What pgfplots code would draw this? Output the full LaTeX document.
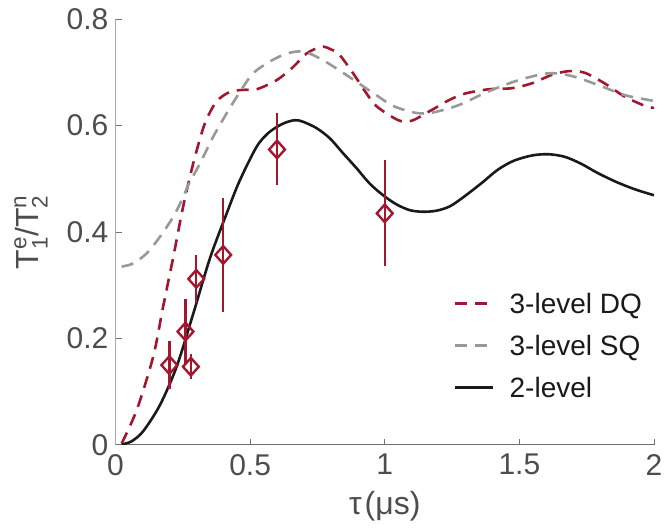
\documentclass[border=0pt]{standalone}
\usepackage{fontspec}
\setmainfont{Liberation Sans}
\usepackage{amsmath}
\usepackage{pgfplots}
\pgfplotsset{compat=1.18}
\definecolor{dq}{HTML}{A3162E}
\definecolor{sq}{HTML}{999999}
\definecolor{lbl}{HTML}{4D4D4D}
\definecolor{curve}{HTML}{1A1A1A}
\definecolor{yax}{HTML}{AAAAAA}
\definecolor{xax}{HTML}{707070}
\begin{document}
\begin{tikzpicture}
\useasboundingbox (-57.75pt,-42pt) rectangle (274.25pt,222.5pt);
\begin{axis}[
  scale only axis, width=269.25pt, height=213pt,
  xmin=0, xmax=2, ymin=0, ymax=0.8,
  axis x line*=bottom, axis y line*=left,
  x axis line style={-, color=xax, line width=0.5pt},
  y axis line style={-, color=yax, line width=0.5pt},
  xtick={0,0.5,1,1.5,2}, ytick={0,0.2,0.4,0.6,0.8},
  tick align=inside, major tick length=3pt,
  xtick style={color=xax, line width=0.5pt},
  ytick style={color=xax, line width=0.5pt},
  /pgf/number format/assume math mode=true,
  ticklabel style={font=\fontsize{15}{18}\selectfont, color=lbl},
  xticklabel style={yshift=-1pt},
  label style={font=\fontsize{16}{19}\selectfont, color=lbl},
  xlabel={τ\kern1.5pt(μs)},
  ylabel={T$^{\text{e}}_{\text{1}}$/T$^{\text{n}}_{\text{2}}$},
  xlabel style={at={(axis description cs:0.5,-0.143)}, anchor=center},
  ylabel style={at={(axis description cs:-0.157,0.5)}, anchor=center},
  legend style={draw=none, fill=none, inner sep=0pt, at={(axis cs:1.256,0.285)}, anchor=north west,
    font=\fontsize{14}{17}\selectfont, text=curve, row sep=11pt,
    nodes={inner sep=0pt, text height=10pt, text depth=0pt},
    /tikz/column sep=7.5pt},
  legend cell align=left,
  legend image code/.code={\draw[#1] (0pt,0pt) -- (19pt,0pt);},
  every axis plot/.append style={line width=1.3pt},
]
\addplot[color=dq, smooth, dash pattern=on 6pt off 4pt] coordinates {
(0.023,0.003) (0.079,0.066) (0.140,0.166) (0.177,0.26) (0.215,0.354) (0.246,0.435)
(0.27,0.49) (0.295,0.541) (0.332,0.604) (0.375,0.645) (0.425,0.663) (0.475,0.667)
(0.524,0.668) (0.598,0.685) (0.660,0.710) (0.709,0.735) (0.765,0.748) (0.80,0.743)
(0.83,0.734) (0.88,0.70) (0.93,0.662) (0.97,0.636) (1.05,0.610) (1.10,0.609)
(1.174,0.629) (1.24,0.648) (1.298,0.660) (1.385,0.668) (1.471,0.670) (1.545,0.679)
(1.62,0.695) (1.682,0.702) (1.743,0.699) (1.817,0.679) (1.892,0.654) (1.966,0.637) (2.0,0.633)
};
\addlegendentry{3-level DQ}
\addplot[color=sq, smooth, dash pattern=on 6pt off 4pt] coordinates {
(0.023,0.335) (0.066,0.341) (0.116,0.36) (0.165,0.391) (0.215,0.429) (0.252,0.466)
(0.270,0.488) (0.314,0.529) (0.363,0.579) (0.413,0.623) (0.462,0.663) (0.511,0.698)
(0.573,0.720) (0.635,0.735) (0.697,0.739) (0.759,0.726) (0.821,0.707) (0.895,0.682)
(0.969,0.657) (1.03,0.637) (1.112,0.624) (1.174,0.624) (1.273,0.638) (1.385,0.664)
(1.496,0.685) (1.607,0.698) (1.694,0.693) (1.793,0.676) (1.892,0.657) (1.991,0.647) (2.0,0.646)
};
\addlegendentry{3-level SQ}
\addplot[color=curve, smooth] coordinates {
(0.023,0.001) (0.06,0.007) (0.103,0.026) (0.165,0.075) (0.227,0.147) (0.289,0.247) (0.351,0.351)
(0.413,0.435) (0.46,0.495) (0.524,0.560) (0.57,0.587) (0.62,0.603) (0.665,0.610)
(0.697,0.607) (0.747,0.595) (0.796,0.576) (0.845,0.548) (0.895,0.520) (0.944,0.491)
(0.994,0.469) (1.043,0.452) (1.093,0.441) (1.142,0.438) (1.192,0.440) (1.241,0.448)
(1.291,0.465) (1.36,0.492) (1.42,0.517) (1.48,0.534) (1.55,0.544) (1.61,0.546)
(1.67,0.541) (1.73,0.528) (1.79,0.511) (1.86,0.494) (1.93,0.480) (2.0,0.469)
};
\addlegendentry{2-level}
\addplot[forget plot, color=dq, only marks, mark=diamond, mark size=4.4pt,
  mark options={xscale=1.2, line width=1.2pt, fill=none},
  error bars/.cd, y dir=both, y explicit,
  error bar style={line width=1.2pt, color=dq},
  error mark options={line width=1.2pt, mark size=1.5pt, color=dq}]
coordinates {
(0.2,0.150) +- (0,0.039)
(0.26,0.213) +- (0,0.055)
(0.28,0.147) +- (0,0.018)
(0.3,0.312) +- (0,0.040)
(0.4,0.357) +- (0,0.102)
(0.6,0.555) +- (0,0.062)
(1.0,0.435) +- (0,0.094)
};
\end{axis}
\end{tikzpicture}
\end{document}
